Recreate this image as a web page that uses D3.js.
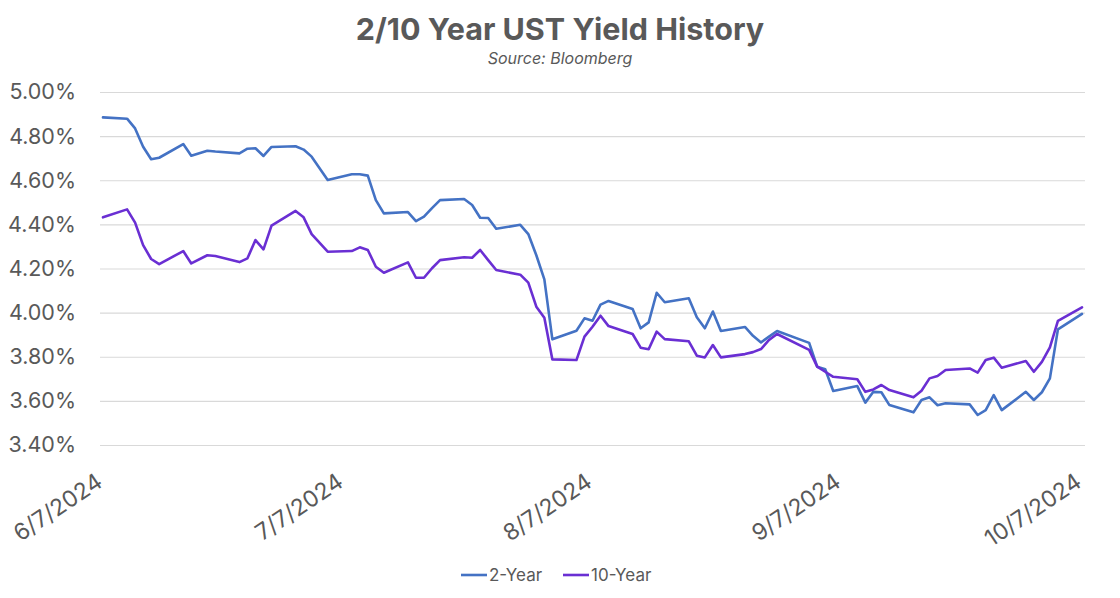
<!DOCTYPE html>
<html>
<head>
<meta charset="utf-8">
<script src="https://cdn.jsdelivr.net/npm/d3@7"></script>
<style>
  html, body { margin: 0; padding: 0; background: #fff; }
  svg { display: block; font-family: "Inter", "Lato", sans-serif; }
</style>
</head>
<body>
<svg id="chart" width="1120" height="598"></svg>
<script>
const dates = [
  "2024-06-07","2024-06-10","2024-06-11","2024-06-12","2024-06-13","2024-06-14","2024-06-17","2024-06-18","2024-06-20","2024-06-21","2024-06-24","2024-06-25","2024-06-26","2024-06-27","2024-06-28",
  "2024-07-01","2024-07-02","2024-07-03","2024-07-05","2024-07-08","2024-07-09","2024-07-10","2024-07-11","2024-07-12","2024-07-15","2024-07-16","2024-07-17","2024-07-18","2024-07-19","2024-07-22","2024-07-23","2024-07-24","2024-07-25","2024-07-26","2024-07-29","2024-07-30","2024-07-31",
  "2024-08-01","2024-08-02","2024-08-05","2024-08-06","2024-08-07","2024-08-08","2024-08-09","2024-08-12","2024-08-13","2024-08-14","2024-08-15","2024-08-16","2024-08-19","2024-08-20","2024-08-21","2024-08-22","2024-08-23","2024-08-26","2024-08-27","2024-08-28","2024-08-29","2024-08-30",
  "2024-09-03","2024-09-04","2024-09-05","2024-09-06","2024-09-09","2024-09-10","2024-09-11","2024-09-12","2024-09-13","2024-09-16","2024-09-17","2024-09-18","2024-09-19","2024-09-20","2024-09-23","2024-09-24","2024-09-25","2024-09-26","2024-09-27","2024-09-30",
  "2024-10-01","2024-10-02","2024-10-03","2024-10-04","2024-10-07"
];
const twoYear = [
  4.885,4.879,4.835,4.752,4.695,4.702,4.764,4.711,4.734,4.730,4.722,4.743,4.745,4.710,4.751,
  4.754,4.739,4.707,4.601,4.627,4.627,4.621,4.510,4.450,4.456,4.415,4.435,4.474,4.510,4.515,4.488,4.430,4.429,4.380,4.398,4.356,4.260,
  4.151,3.879,3.918,3.974,3.963,4.036,4.053,4.016,3.929,3.956,4.090,4.047,4.065,3.979,3.929,4.005,3.917,3.935,3.895,3.865,3.891,3.917,
  3.863,3.755,3.743,3.645,3.667,3.592,3.641,3.639,3.581,3.548,3.604,3.616,3.580,3.589,3.584,3.536,3.558,3.626,3.558,3.641,
  3.604,3.639,3.702,3.924,3.994
];
const tenYear = [
  4.432,4.468,4.408,4.306,4.243,4.220,4.279,4.223,4.260,4.257,4.229,4.246,4.329,4.287,4.394,
  4.461,4.432,4.356,4.276,4.279,4.296,4.284,4.208,4.181,4.228,4.158,4.158,4.201,4.238,4.251,4.249,4.284,4.238,4.193,4.172,4.136,4.027,
  3.977,3.788,3.785,3.891,3.936,3.986,3.939,3.903,3.841,3.834,3.914,3.880,3.870,3.805,3.797,3.853,3.797,3.812,3.821,3.835,3.876,3.903,
  3.831,3.755,3.732,3.709,3.698,3.641,3.652,3.672,3.649,3.616,3.646,3.702,3.713,3.740,3.747,3.728,3.785,3.796,3.750,3.781,
  3.732,3.777,3.843,3.963,4.024
];
const yTicks = [3.4,3.6,3.8,4.0,4.2,4.4,4.6,4.8,5.0];
const xTicks = ["2024-06-07","2024-07-07","2024-08-07","2024-09-07","2024-10-07"];
const seriesNames = ["2-Year","10-Year"];
const seriesColors = ["#4472C4","#6a2fd3"];

const parse = d3.timeParse("%Y-%m-%d");
const svg = d3.select("#chart");
const textColor = "#595959";

const x = d3.scaleTime().domain([parse(xTicks[0]), parse(xTicks[xTicks.length-1])]).range([103, 1082]);
const y = d3.scaleLinear().domain([3.4, 5.0]).range([445, 92]);

// title
svg.append("text").attr("x", 560).attr("y", 40).attr("text-anchor","middle")
  .attr("font-size", 30.5).attr("font-weight", 700).attr("fill", textColor)
  .text("2/10 Year UST Yield History");
svg.append("text").attr("x", 560).attr("y", 64).attr("text-anchor","middle")
  .attr("font-size", 16).attr("font-style","italic").attr("fill", textColor)
  .text("Source: Bloomberg");

// gridlines + y axis
const yAxis = d3.axisLeft(y).tickValues(yTicks).tickSize(-985).tickPadding(24)
  .tickFormat(d => d.toFixed(2) + "%");
const gy = svg.append("g").attr("transform","translate(100,0)").call(yAxis);
gy.select(".domain").remove();
gy.selectAll(".tick line").attr("stroke","#d9d9d9").attr("stroke-width",1.2);
gy.selectAll(".tick text").attr("fill", textColor).attr("font-size", 21.5)
  .attr("font-family","Inter, sans-serif");

// x axis
const fmt = d => (d.getMonth()+1) + "/" + d.getDate() + "/" + d.getFullYear();
const xAxis = d3.axisBottom(x).tickValues(xTicks.map(parse)).tickSize(0).tickFormat(fmt);
const gx = svg.append("g").attr("transform","translate(0,445)").call(xAxis);
gx.select(".domain").remove();
gx.selectAll(".tick text").attr("fill", textColor).attr("font-size", 23)
  .attr("font-family","Inter, sans-serif")
  .attr("text-anchor","end").attr("dy", 0)
  .attr("transform","translate(-1,38) rotate(-34)");

// lines
const data = [twoYear, tenYear];
const line = d3.line().x((d,i) => x(parse(dates[i]))).y(d => y(d));
data.forEach((vals, k) => {
  svg.append("path").datum(vals).attr("d", line)
    .attr("fill","none").attr("stroke", seriesColors[k]).attr("stroke-width", 2.6)
    .attr("stroke-linejoin","round").attr("stroke-linecap","round");
});

// legend
const legendX = [461, 563];
seriesNames.forEach((n, k) => {
  const g = svg.append("g").attr("transform", `translate(${legendX[k]},575)`);
  g.append("line").attr("x1",0).attr("x2",26).attr("y1",0).attr("y2",0)
    .attr("stroke", seriesColors[k]).attr("stroke-width", 2.6);
  g.append("text").attr("x", 28).attr("y", 6).attr("font-size", 17).attr("fill", textColor).text(n);
});
</script>
</body>
</html>
